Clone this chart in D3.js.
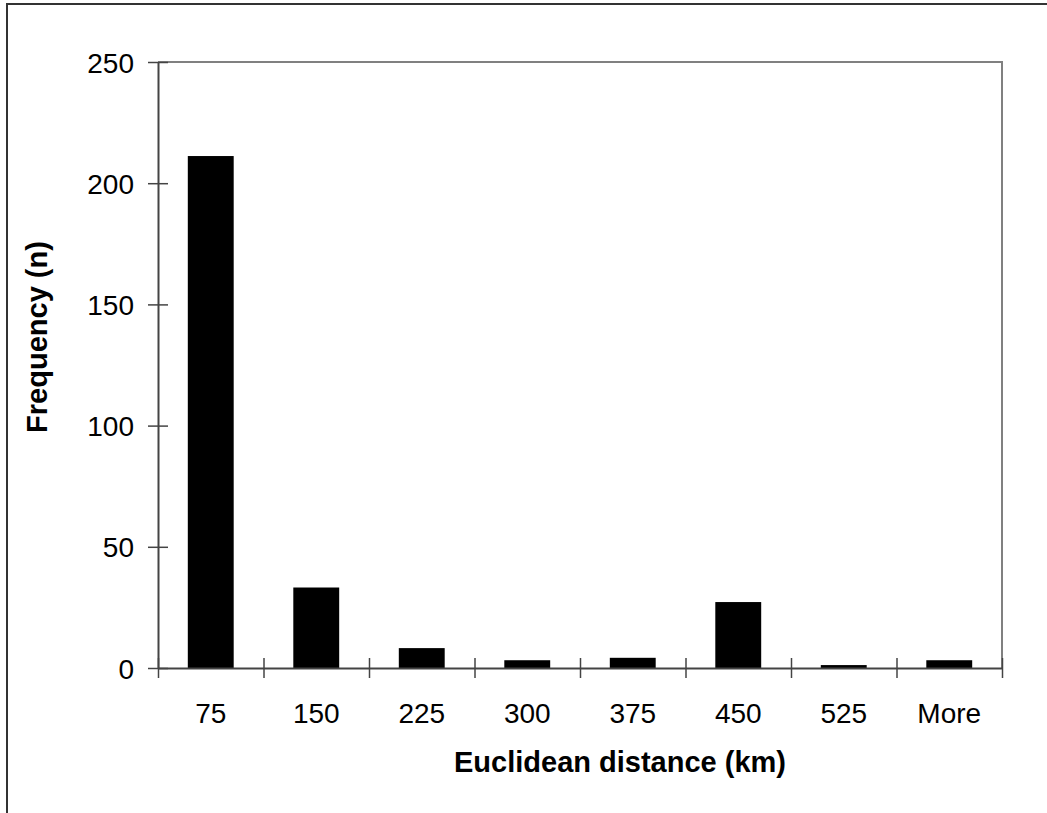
<!DOCTYPE html>
<html>
<head>
<meta charset="utf-8">
<script src="https://cdn.jsdelivr.net/npm/d3@7"></script>
<style>
  html, body { margin: 0; padding: 0; background: #fff; }
  svg { display: block; }
  text { font-family: Arial, "Liberation Sans", sans-serif; fill: #000; }
</style>
</head>
<body>
<svg id="chart" width="1047" height="813"></svg>
<script>
// Daten
const categories = ["75", "150", "225", "300", "375", "450", "525", "More"];
const frequency = [211, 33, 8, 3, 4, 27, 1, 3];
const yTicks = [0, 50, 100, 150, 200, 250];

const svg = d3.select("#chart");
const width = 1047;
const height = 813;

// Plotbereich
const plot = { left: 158, right: 1002, top: 62, bottom: 668 };

const x = d3.scaleBand()
  .domain(categories)
  .range([plot.left, plot.right])
  .paddingInner(0.565)
  .paddingOuter(0.2825);

const xBoundary = d3.scaleLinear()
  .domain([0, categories.length])
  .range([plot.left, plot.right]);

const y = d3.scaleLinear()
  .domain([0, 250])
  .range([plot.bottom, plot.top]);

// Rahmen (nur oben und links sichtbar)
svg.append("path")
  .attr("d", `M7,${height} L7,4 L${width},4`)
  .attr("fill", "none")
  .attr("stroke", "#333")
  .attr("stroke-width", 2);

// Plotbereich-Rand oben und rechts
svg.append("path")
  .attr("d", `M${plot.left},${plot.top} L${plot.right},${plot.top} L${plot.right},${plot.bottom}`)
  .attr("fill", "none")
  .attr("stroke", "#808080")
  .attr("stroke-width", 2);

// Balken
svg.append("g")
  .selectAll("rect")
  .data(frequency)
  .join("rect")
  .attr("x", (d, i) => x(categories[i]))
  .attr("y", d => y(d) - 0.5)
  .attr("width", x.bandwidth())
  .attr("height", d => plot.bottom - y(d) + 0.5)
  .attr("fill", "#000");

// Y-Achse
const yAxis = svg.append("g")
  .attr("transform", `translate(${plot.left},0)`)
  .call(d3.axisLeft(y).tickValues(yTicks).tickSize(10).tickPadding(14).tickSizeOuter(0));

yAxis.selectAll(".tick line")
  .attr("x1", 10);

// X-Achse: Ticks auf den Klassengrenzen
const xAxis = svg.append("g")
  .attr("transform", `translate(0,${plot.bottom})`)
  .call(d3.axisBottom(xBoundary).ticks(categories.length).tickSize(10).tickFormat("").tickSizeOuter(0));

xAxis.selectAll(".tick line")
  .attr("y1", -10);

[yAxis, xAxis].forEach(ax => {
  ax.select(".domain").attr("stroke", "#444").attr("stroke-width", 2);
  ax.selectAll(".tick line").attr("stroke", "#444").attr("stroke-width", 1.5);
});

yAxis.selectAll(".tick text")
  .attr("font-size", 28)
  .attr("font-family", "Arial, 'Liberation Sans', sans-serif")
  .attr("dy", "0.36em");

// X-Beschriftungen
svg.append("g")
  .selectAll("text")
  .data(categories)
  .join("text")
  .attr("x", d => x(d) + x.bandwidth() / 2)
  .attr("y", 723)
  .attr("text-anchor", "middle")
  .style("font-size", "28px")
  .text(d => d);

// Achsentitel
svg.append("text")
  .attr("x", 620)
  .attr("y", 772)
  .attr("text-anchor", "middle")
  .style("font-size", "29px")
  .style("font-weight", "bold")
  .text("Euclidean distance (km)");

svg.append("text")
  .attr("transform", "translate(47,337) rotate(-90)")
  .attr("text-anchor", "middle")
  .style("font-size", "29px")
  .style("font-weight", "bold")
  .text("Frequency (n)");
</script>
</body>
</html>
